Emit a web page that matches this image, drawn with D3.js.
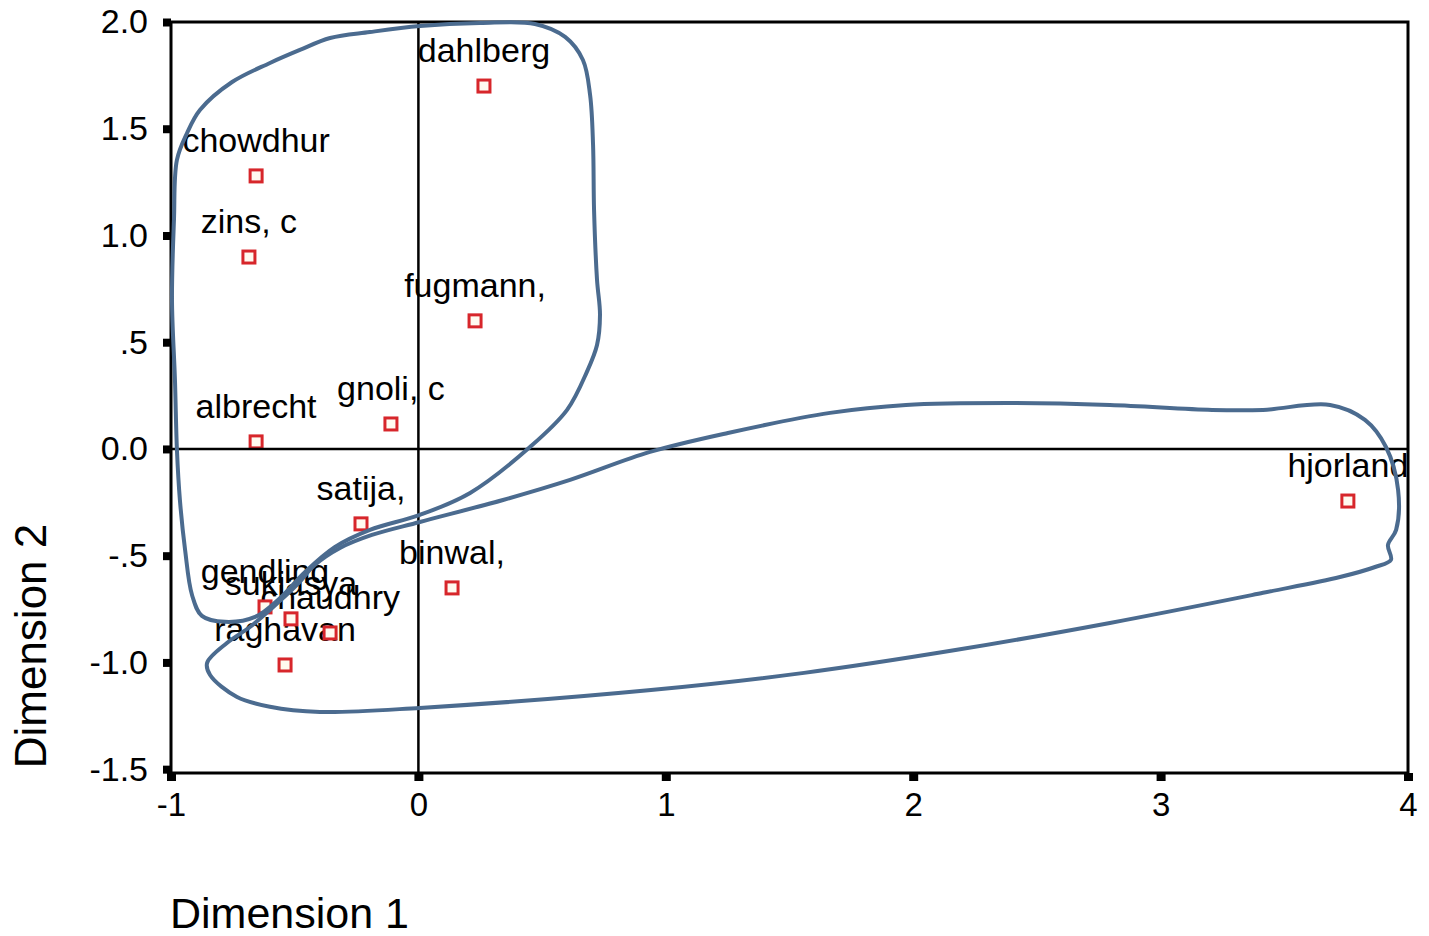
<!DOCTYPE html>
<html>
<head>
<meta charset="utf-8">
<script src="https://cdn.jsdelivr.net/npm/d3@7"></script>
<style>
  html, body { margin: 0; padding: 0; background: #ffffff; }
  svg { display: block; }
  text { font-family: "Liberation Sans", Arial, sans-serif; fill: #000; }
</style>
</head>
<body>
<svg id="chart" width="1429" height="936"></svg>
<script>
// ---- data ----
const names = ["dahlberg", "chowdhur", "zins, c", "fugmann,", "albrecht", "gnoli, c", "satija,", "binwal,", "hjorland",
               "gendling", "sukiasya", "chaudhry", "raghavan"];
const dim1 = [0.265, -0.656, -0.685, 0.229, -0.656, -0.111, -0.232, 0.136, 3.757, -0.620, -0.515, -0.357, -0.539];
const dim2 = [1.700, 1.279, 0.899, 0.600, 0.033, 0.117, -0.351, -0.651, -0.244, -0.740, -0.796, -0.862, -1.012];

const xTicks = [-1, 0, 1, 2, 3, 4];
const xTickLabels = ["-1", "0", "1", "2", "3", "4"];
const yTicks = [2.0, 1.5, 1.0, 0.5, 0.0, -0.5, -1.0, -1.5];
const yTickLabels = ["2.0", "1.5", "1.0", ".5", "0.0", "-.5", "-1.0", "-1.5"];

// hand-drawn cluster outlines (data units)
const group1X = [-0.976, -0.984, -0.996, -0.988, -0.976, -0.935, -0.883, -0.753, -0.600, -0.479, -0.357, -0.196, 0.006, 0.249,
                 0.471, 0.593, 0.665, 0.694, 0.706, 0.710, 0.722, 0.734, 0.722, 0.681, 0.601, 0.451, 0.209, 0.006, -0.196,
                 -0.337, -0.458, -0.559, -0.660, -0.782, -0.875, -0.915, -0.943, -0.964];
const group1Y = [-0.005, 0.323, 0.698, 1.073, 1.354, 1.480, 1.588, 1.719, 1.808, 1.869, 1.925, 1.953, 1.981, 1.995,
                 1.991, 1.930, 1.822, 1.658, 1.424, 1.119, 0.792, 0.628, 0.487, 0.361, 0.183, 0.009, -0.206, -0.309, -0.379,
                 -0.459, -0.576, -0.698, -0.787, -0.810, -0.782, -0.684, -0.473, -0.239];
const group2X = [-0.854, -0.774, -0.681, -0.600, -0.491, -0.418, -0.317, -0.188, 0.006, 0.342, 0.613, 0.936, 1.251, 1.664,
                 1.971, 2.383, 2.795, 3.208, 3.414, 3.685, 3.826, 3.911, 3.960, 3.952, 3.919, 3.931, 3.867, 3.725, 3.414,
                 2.795, 2.177, 1.559, 0.940, 0.006, -0.398, -0.600, -0.733, -0.842];
const group2Y = [-1.002, -0.909, -0.834, -0.754, -0.637, -0.543, -0.464, -0.403, -0.342, -0.239, -0.145, -0.014, 0.075, 0.169,
                 0.206, 0.215, 0.206, 0.183, 0.183, 0.206, 0.136, 0.009, -0.192, -0.379, -0.450, -0.520, -0.553, -0.600, -0.674,
                 -0.815, -0.941, -1.049, -1.129, -1.213, -1.232, -1.208, -1.162, -1.059];

// ---- layout ----
const svg = d3.select("#chart");
const x = d3.scaleLinear().domain([-1, 4]).range([171, 1408]);
const y = d3.scaleLinear().domain([-1.518, 2.0]).range([773, 22]);

const points = names.map((n, i) => ({ name: n, x: dim1[i], y: dim2[i] }));

// labels
svg.append("g").selectAll("text").data(points).join("text")
  .attr("x", d => x(d.x))
  .attr("y", d => y(d.y) - 24)
  .attr("text-anchor", "middle")
  .attr("font-size", 34)
  .text(d => d.name);

// point markers
svg.append("g").selectAll("rect").data(points).join("rect")
  .attr("x", d => x(d.x) - 6)
  .attr("y", d => y(d.y) - 6)
  .attr("width", 12).attr("height", 12)
  .attr("fill", "#fffaf0")
  .attr("stroke", "#d7262b")
  .attr("stroke-width", 3);

// reference lines
svg.append("line").attr("x1", x(0)).attr("x2", x(0)).attr("y1", y(2.0)).attr("y2", y(-1.518))
  .attr("stroke", "#000").attr("stroke-width", 2.5);
svg.append("line").attr("x1", x(-1)).attr("x2", x(4)).attr("y1", y(0)).attr("y2", y(0))
  .attr("stroke", "#000").attr("stroke-width", 2.5);

// frame
svg.append("rect").attr("x", x(-1)).attr("y", y(2.0))
  .attr("width", x(4) - x(-1)).attr("height", y(-1.518) - y(2.0))
  .attr("fill", "none").attr("stroke", "#000").attr("stroke-width", 3);

// axes
const yAxis = d3.axisLeft(y).tickValues(yTicks).tickFormat((d, i) => yTickLabels[i]).tickSize(8).tickPadding(15);
const gy = svg.append("g").attr("transform", `translate(${x(-1)},0)`).call(yAxis);
gy.select(".domain").remove();
gy.selectAll(".tick line").attr("stroke", "#000").attr("stroke-width", 8);
gy.selectAll(".tick text").attr("font-size", 34).attr("font-family", "Liberation Sans, Arial, sans-serif").attr("fill", "#000");

const xAxis = d3.axisBottom(x).tickValues(xTicks).tickFormat((d, i) => xTickLabels[i]).tickSize(8).tickPadding(12);
const gx = svg.append("g").attr("transform", `translate(0,${y(-1.518)})`).call(xAxis);
gx.select(".domain").remove();
gx.selectAll(".tick line").attr("stroke", "#000").attr("stroke-width", 9);
gx.selectAll(".tick text").attr("font-size", 33).attr("font-family", "Liberation Sans, Arial, sans-serif").attr("fill", "#000");

// axis titles
svg.append("text").attr("x", 170).attr("y", 928).attr("font-size", 43).text("Dimension 1");
svg.append("text").attr("transform", `translate(46,646) rotate(-90)`).attr("text-anchor", "middle")
  .attr("font-size", 44).text("Dimension 2");

// cluster outlines
const outline = d3.line().x(d => x(d[0])).y(d => y(d[1])).curve(d3.curveCatmullRomClosed.alpha(0.5));
const groups = [d3.zip(group1X, group1Y), d3.zip(group2X, group2Y)];
svg.append("g").selectAll("path").data(groups).join("path")
  .attr("d", outline)
  .attr("fill", "none")
  .attr("stroke", "#4b6b8f")
  .attr("stroke-width", 4)
  .attr("stroke-linejoin", "round");
</script>
</body>
</html>
